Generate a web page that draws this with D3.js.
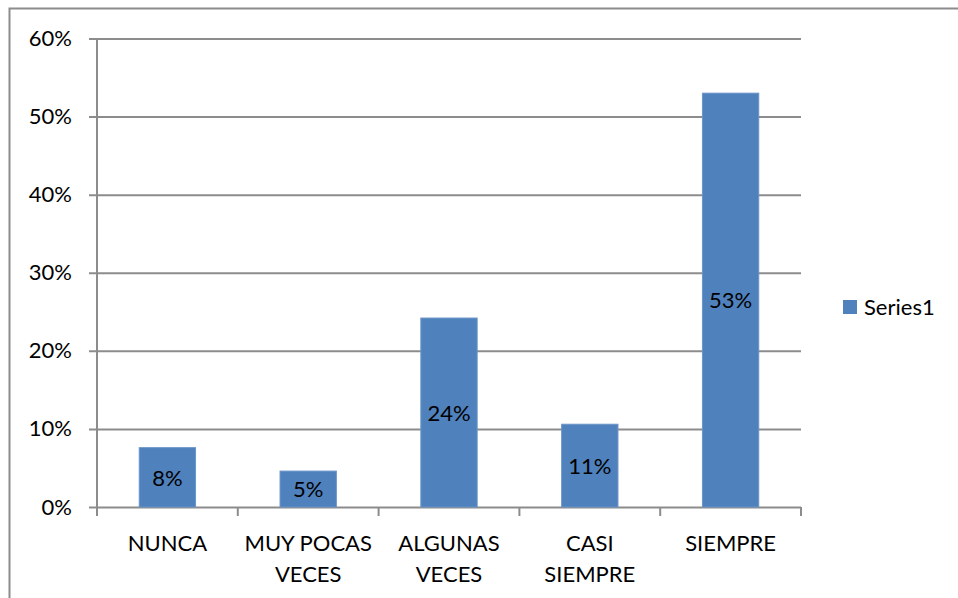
<!DOCTYPE html>
<html>
<head>
<meta charset="utf-8">
<script src="https://cdn.jsdelivr.net/npm/d3@7"></script>
<style>
  body { margin: 0; background: #fff; }
  svg { display: block; font-family: Lato, "Open Sans", sans-serif; }
</style>
</head>
<body>
<div id="chart"></div>
<script>
// categories and values
const categories = [["NUNCA"], ["MUY POCAS", "VECES"], ["ALGUNAS", "VECES"], ["CASI", "SIEMPRE"], ["SIEMPRE"]];
const values = [0.076, 0.046, 0.242, 0.106, 0.53];
const yTicks = [0, 0.1, 0.2, 0.3, 0.4, 0.5, 0.6];
const seriesName = "Series1";

const width = 958, height = 598;
const plot = { left: 97, right: 801, top: 38.5, bottom: 507 };
const fontSize = 22;

const svg = d3.select("#chart").append("svg")
    .attr("width", width)
    .attr("height", height);

// outer chart border
svg.append("rect")
    .attr("x", 9.5).attr("y", 8.5)
    .attr("width", width + 20).attr("height", height + 20)
    .attr("fill", "none")
    .attr("stroke", "#8c8c8c")
    .attr("stroke-width", 2);

const x = d3.scaleBand()
    .domain(d3.range(categories.length))
    .range([plot.left, plot.right])
    .paddingInner(0.6)
    .paddingOuter(0.3);

const xEdges = d3.scaleLinear()
    .domain([0, categories.length])
    .range([plot.left, plot.right]);

const y = d3.scaleLinear()
    .domain([0, 0.6])
    .range([plot.bottom, plot.top]);

// gridlines + y axis
const yAxis = d3.axisLeft(y)
    .tickValues(yTicks)
    .tickFormat(d3.format(".0%"))
    .tickSize(-(plot.right - plot.left))
    .tickPadding(25);

const gy = svg.append("g")
    .attr("transform", `translate(${plot.left},0)`)
    .call(yAxis);
gy.select(".domain").remove();
gy.selectAll(".tick line")
    .attr("x1", -8)
    .attr("stroke", "#8c8c8c")
    .attr("stroke-width", 2);
gy.selectAll(".tick text")
    .attr("font-size", fontSize)
    .attr("fill", "#000")
    .attr("font-family", "Lato, 'Open Sans', sans-serif");

// vertical axis line
svg.append("line")
    .attr("x1", plot.left).attr("x2", plot.left)
    .attr("y1", plot.top).attr("y2", plot.bottom + 9)
    .attr("stroke", "#8c8c8c").attr("stroke-width", 2);

// bars
svg.append("g").selectAll("rect")
    .data(values)
    .join("rect")
    .attr("x", (d, i) => x(i))
    .attr("y", d => y(d))
    .attr("width", x.bandwidth())
    .attr("height", d => y(0) - y(d))
    .attr("fill", "#4f81bd")
    .attr("stroke", "#6b95c8")
    .attr("stroke-width", 1);

// x axis tick marks at category boundaries
svg.append("g").selectAll("line")
    .data(d3.range(categories.length + 1))
    .join("line")
    .attr("x1", d => xEdges(d)).attr("x2", d => xEdges(d))
    .attr("y1", plot.bottom).attr("y2", plot.bottom + 9)
    .attr("stroke", "#8c8c8c").attr("stroke-width", 2);

// data labels
const fmt = d3.format(".0%");
svg.append("g").selectAll("text")
    .data(values)
    .join("text")
    .attr("x", (d, i) => x(i) + x.bandwidth() / 2)
    .attr("y", d => (y(d) + y(0)) / 2)
    .attr("dy", "0.38em")
    .attr("text-anchor", "middle")
    .attr("font-size", fontSize)
    .attr("fill", "#000")
    .text(d => fmt(d));

// category labels
const cat = svg.append("g").selectAll("text")
    .data(categories)
    .join("text")
    .attr("x", (d, i) => x(i) + x.bandwidth() / 2)
    .attr("y", 551)
    .attr("text-anchor", "middle")
    .attr("font-size", fontSize)
    .attr("fill", "#000");
cat.selectAll("tspan")
    .data(d => d)
    .join("tspan")
    .attr("x", function () { return this.parentNode.getAttribute("x"); })
    .attr("dy", (d, i) => i === 0 ? 0 : 31)
    .text(d => d);

// legend
const legend = svg.append("g").attr("transform", "translate(843,300)");
legend.append("rect")
    .attr("width", 14).attr("height", 14)
    .attr("fill", "#4f81bd");
legend.append("text")
    .attr("x", 21).attr("y", 7)
    .attr("dy", "0.38em")
    .attr("font-size", fontSize)
    .attr("fill", "#000")
    .text(seriesName);
</script>
</body>
</html>
